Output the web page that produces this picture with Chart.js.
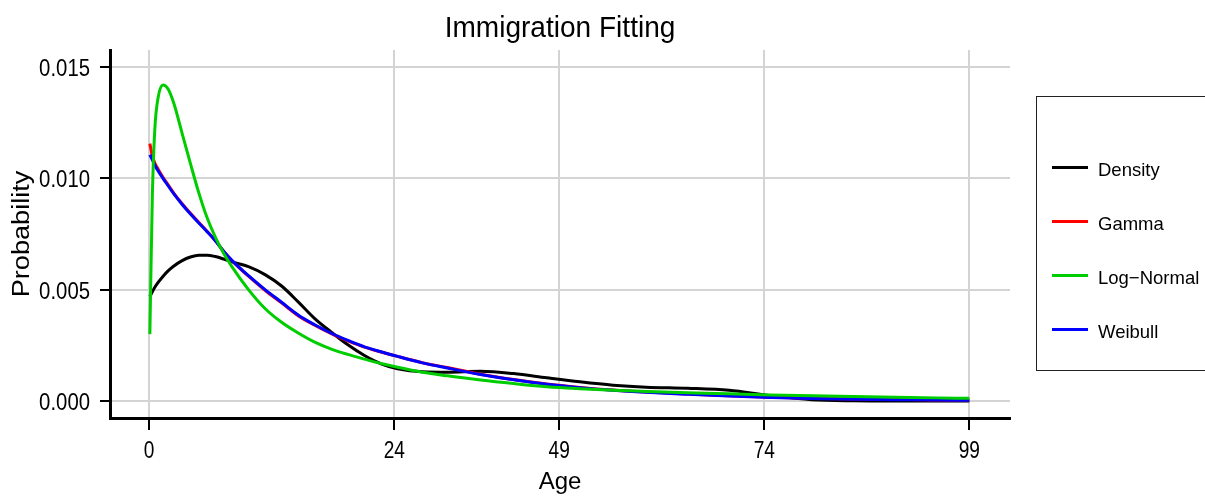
<!DOCTYPE html>
<html>
<head>
<meta charset="utf-8">
<script src="https://cdn.jsdelivr.net/npm/chart.js@4.4.1/dist/chart.umd.min.js"></script>
<style>
  html, body { margin: 0; padding: 0; background: #ffffff; }
  #wrap { width: 1205px; height: 500px; position: relative; }
</style>
</head>
<body>
<div id="wrap"><canvas id="chart" width="1205" height="500"></canvas></div>
<script>
// Age grid shared by every fitted curve
const ages = [0.1, 0.4, 0.7, 1.1, 1.7, 2.3, 3, 4, 5, 6, 7, 8, 9, 10, 12, 14, 16, 18, 20, 22,
              24, 26, 28, 30, 33, 36, 40, 44, 48, 52, 56, 60, 65, 70, 75, 80, 85, 90, 95, 99];

// Kernel density of the observed ages
const densityValues = [0.00468, 0.00490, 0.00510, 0.00532, 0.00560, 0.00584, 0.00606, 0.00630, 0.00646, 0.00654,
                       0.00654, 0.00648, 0.00637, 0.00624, 0.00603, 0.00567, 0.00516, 0.00445, 0.00370, 0.00309,
                       0.00252, 0.00204, 0.00167, 0.00145, 0.00131, 0.00129, 0.00133, 0.00123, 0.00104, 0.00086,
                       0.00071, 0.00062, 0.00057, 0.00048, 0.00024, 0.00006, 0.00001, 0.00000, 0.00000, 0.00000];

// Fitted gamma density
const gammaValues = [0.01155, 0.01100, 0.01068, 0.01040, 0.01003, 0.00970, 0.00932, 0.00885, 0.00842, 0.00802,
                     0.00762, 0.00720, 0.00672, 0.00630, 0.00560, 0.00497, 0.00440, 0.00383, 0.00340, 0.00302,
                     0.00270, 0.00242, 0.00220, 0.00200, 0.00172, 0.00150, 0.00120, 0.00096, 0.00076, 0.00061,
                     0.00049, 0.00040, 0.00031, 0.00024, 0.00017, 0.00012, 0.00009, 0.00007, 0.00005, 0.00004];

// Fitted log-normal density
const logNormalValues = [0.00300, 0.00920, 0.01220, 0.01362, 0.01418, 0.01400, 0.01335, 0.01200, 0.01065, 0.00935,
                         0.00823, 0.00735, 0.00663, 0.00603, 0.00500, 0.00415, 0.00353, 0.00305, 0.00264, 0.00233,
                         0.00209, 0.00188, 0.00168, 0.00151, 0.00129, 0.00113, 0.00094, 0.00078, 0.00064, 0.00055,
                         0.00048, 0.00043, 0.00037, 0.00032, 0.00027, 0.00023, 0.00020, 0.00017, 0.00014, 0.00012];

// Fitted Weibull density
const weibullValues = [0.01105, 0.01082, 0.01058, 0.01032, 0.00998, 0.00966, 0.00929, 0.00882, 0.00839, 0.00799,
                       0.00760, 0.00719, 0.00672, 0.00631, 0.00562, 0.00500, 0.00443, 0.00386, 0.00342, 0.00304,
                       0.00272, 0.00243, 0.00221, 0.00200, 0.00171, 0.00148, 0.00119, 0.00095, 0.00075, 0.00060,
                       0.00048, 0.00039, 0.00030, 0.00022, 0.00016, 0.00011, 0.00008, 0.00006, 0.00004, 0.00003];

// Axis breaks and their labels
const xTickPositions = [0, 29.6, 49.5, 74.25, 99];
const xTickLabels = ['0', '24', '49', '74', '99'];
const yTickPositions = [0, 0.005, 0.010, 0.015];
const yTickLabels = ['0.000', '0.005', '0.010', '0.015'];

const seriesNames = ['Density', 'Gamma', 'Log\u2212Normal', 'Weibull'];
const seriesColors = ['#000000', '#ff0000', '#00cd00', '#0000ff'];

const toPoints = vals => ages.map((a, i) => ({ x: a, y: vals[i] }));

const SANS = "'Liberation Sans', Arial, Helvetica, sans-serif";

// Draws text squeezed or stretched along its own direction
function drawScaledText(ctx, text, x, y, sx, align) {
  ctx.save();
  ctx.translate(x, y);
  ctx.scale(sx, 1);
  ctx.textAlign = align;
  ctx.fillText(text, 0, 0);
  ctx.restore();
}

// Title, tick labels, axis titles and boxed legend
const decorations = {
  id: 'decorations',
  afterDraw(chart) {
    const ctx = chart.ctx;
    const area = chart.chartArea;
    const cx = (area.left + area.right) / 2;
    const xs = chart.scales.x;
    const ys = chart.scales.y;
    ctx.save();
    ctx.fillStyle = '#000';
    ctx.textBaseline = 'alphabetic';

    // title
    ctx.font = '30px ' + SANS;
    drawScaledText(ctx, 'Immigration Fitting', cx, 37, 0.935, 'center');

    // x tick labels, placed by the x scale
    ctx.font = '23px ' + SANS;
    xTickPositions.forEach((v, i) => {
      drawScaledText(ctx, xTickLabels[i], xs.getPixelForValue(v), 458, 0.83, 'center');
    });

    // y tick labels, placed by the y scale
    ctx.font = '24.5px ' + SANS;
    yTickPositions.forEach((v, i) => {
      drawScaledText(ctx, yTickLabels[i], 90, ys.getPixelForValue(v) + 9, 0.83, 'right');
    });

    // x axis title
    ctx.font = '24px ' + SANS;
    drawScaledText(ctx, 'Age', cx, 489, 1, 'center');

    // y axis title
    ctx.save();
    ctx.font = '23px ' + SANS;
    ctx.translate(29, (area.top + area.bottom) / 2);
    ctx.rotate(-Math.PI / 2);
    drawScaledText(ctx, 'Probability', 0, 0, 1.18, 'center');
    ctx.restore();

    // legend box
    ctx.save();
    ctx.strokeStyle = '#222';
    ctx.lineWidth = 1;
    ctx.strokeRect(1036.5, 96.5, 200, 274);
    ctx.font = '18.5px ' + SANS;
    ctx.textAlign = 'left';
    seriesNames.forEach((name, i) => {
      const y = 167.5 + i * 54;
      ctx.strokeStyle = seriesColors[i];
      ctx.lineWidth = 3;
      ctx.beginPath();
      ctx.moveTo(1052, y);
      ctx.lineTo(1088, y);
      ctx.stroke();
      ctx.fillStyle = '#000';
      ctx.fillText(name, 1098, y + 8);
    });
    ctx.restore();

    ctx.restore();
  }
};

const gridColor = '#d4d4d4';

new Chart(document.getElementById('chart'), {
  type: 'line',
  data: {
    datasets: [
      { label: seriesNames[0], data: toPoints(densityValues), borderColor: seriesColors[0], order: 4 },
      { label: seriesNames[1], data: toPoints(gammaValues), borderColor: seriesColors[1], order: 3 },
      { label: seriesNames[2], data: toPoints(logNormalValues), borderColor: seriesColors[2], order: 1 },
      { label: seriesNames[3], data: toPoints(weibullValues), borderColor: seriesColors[3], order: 2 }
    ]
  },
  options: {
    responsive: false,
    animation: false,
    devicePixelRatio: 1,
    layout: { padding: { top: 50, right: 195, left: 0, bottom: 0 } },
    elements: {
      point: { radius: 0, hoverRadius: 0 },
      line: { borderWidth: 3, cubicInterpolationMode: 'monotone', fill: false }
    },
    plugins: {
      legend: { display: false },
      title: { display: false },
      tooltip: { enabled: false }
    },
    scales: {
      x: {
        type: 'linear',
        min: -4.71,
        max: 103.91,
        afterFit(scale) { scale.height = 82; },
        afterBuildTicks(scale) { scale.ticks = xTickPositions.map(v => ({ value: v })); },
        grid: {
          color: gridColor,
          lineWidth: 2,
          tickColor: '#000',
          tickWidth: 2,
          tickLength: 12
        },
        border: { display: true, color: '#000', width: 3 },
        ticks: { display: false }
      },
      y: {
        type: 'linear',
        min: -0.000763,
        max: 0.015749,
        afterFit(scale) { scale.width = 110; },
        afterBuildTicks(scale) { scale.ticks = yTickPositions.map(v => ({ value: v })); },
        grid: {
          color: gridColor,
          lineWidth: 2,
          tickColor: '#000',
          tickWidth: 2,
          tickLength: 10
        },
        border: { display: true, color: '#000', width: 3 },
        ticks: { display: false }
      }
    }
  },
  plugins: [decorations]
});
</script>
</body>
</html>
